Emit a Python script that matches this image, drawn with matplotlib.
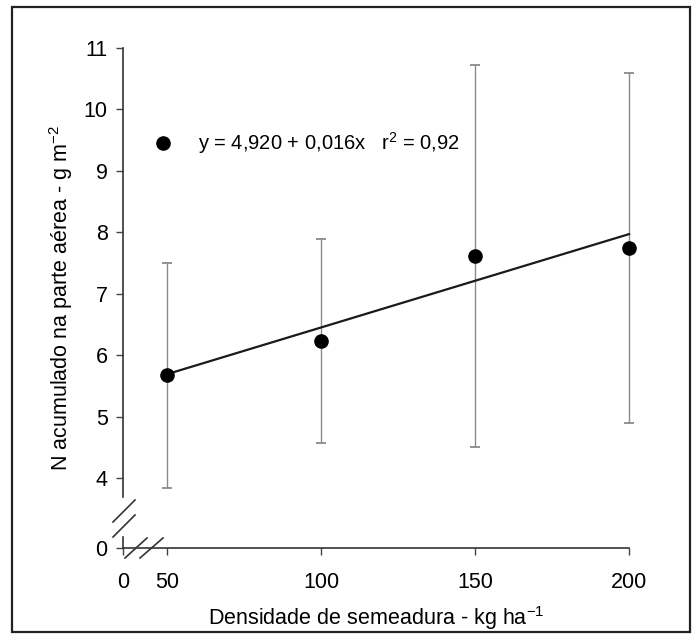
import matplotlib
matplotlib.use("Agg")
from matplotlib import pyplot as plt
from matplotlib.lines import Line2D
from matplotlib.patches import Rectangle

# data
densidade = [50, 100, 150, 200]
n_acum = [5.68, 6.23, 7.62, 7.75]
err_low = [3.84, 4.57, 4.50, 4.90]
err_high = [7.50, 7.89, 10.72, 10.60]
fit_x = [50, 200]
fit_y = [5.69, 7.97]
yticks = [4, 5, 6, 7, 8, 9, 10, 11]
xticks = [50, 100, 150, 200]
legend_label = "y = 4,920 + 0,016x   r$^2$ = 0,92"

plt.rcParams['font.family'] = ['Liberation Sans', 'DejaVu Sans']
plt.rcParams['mathtext.fontset'] = 'custom'
plt.rcParams['mathtext.rm'] = 'Liberation Sans'
plt.rcParams['mathtext.it'] = 'Liberation Sans'
plt.rcParams['font.size'] = 15.5

W, H = 695, 644
fig = plt.figure(figsize=(W / 100, H / 100), dpi=100)
ax = fig.add_axes([123 / W, 1 - 548 / H, (629 - 123) / W, 500 / H])

x0, y0 = 35.7, 2.86   # where the broken axes start ("0")
ax.set_xlim(x0, 200)
ax.set_ylim(y0, 11)

lo = [m - l for m, l in zip(n_acum, err_low)]
hi = [h - m for m, h in zip(n_acum, err_high)]
eb = ax.errorbar(densidade, n_acum, yerr=[lo, hi], fmt='none', ecolor='#8a8a8a',
                 elinewidth=1.0, capsize=3.5, capthick=1.3, zorder=2)
for art in eb.lines[1] + eb.lines[2]:
    art.set_clip_on(False)
ax.plot(fit_x, fit_y, color='#1a1a1a', lw=1.6, zorder=3, clip_on=False)
ax.plot(densidade, n_acum, 'o', color='black', ms=9.5, zorder=4, clip_on=False)

ax.set_xticks([x0] + xticks)
ax.set_xticklabels(['0'] + [str(v) for v in xticks])
ax.set_yticks([y0] + yticks)
ax.set_yticklabels(['0'] + [str(v) for v in yticks])
ax.tick_params(axis='x', length=5, width=1, pad=12, color='#444')
ax.tick_params(axis='y', length=5, width=1, pad=6, color='#444')

for s in ['top', 'right', 'left', 'bottom']:
    ax.spines[s].set_visible(False)

# axes lines with breaks (axes fraction coordinates)
tr = ax.transAxes
def px(x, y):
    return (x - 123) / 506, (548 - y) / 500
kw = dict(color='#333', lw=1.2, transform=tr, clip_on=False)
ax.add_line(Line2D([0, 0], [px(0, 497)[1], 1], **kw))
ax.add_line(Line2D([0, 0], [0, px(0, 537)[1]], **kw))
ax.add_line(Line2D([0, 1], [0, 0], **kw))
for (xa, ya, xb, yb) in [(113, 522, 135, 500), (113, 537, 135, 515),
                         (125, 558, 147, 538), (140, 558, 163, 538)]:
    a, b = px(xa, ya), px(xb, yb)
    ax.add_line(Line2D([a[0], b[0]], [a[1], b[1]], **kw))

ax.set_xlabel('Densidade de semeadura - kg ha$^{-1}$', labelpad=8)
ax.set_ylabel('N acumulado na parte aérea - g m$^{-2}$', labelpad=6)

h = Line2D([], [], marker='o', color='black', ls='none', ms=9.5)
ax.legend([h], [legend_label], loc='center left', bbox_to_anchor=px(143, 143),
          frameon=False, handlelength=1.0, handletextpad=1.25, borderpad=0,
          fontsize=14.5)

# outer frame of the figure
fig.patches.append(Rectangle((12 / W, 1 - 632 / H), 678 / W, 625 / H,
                             transform=fig.transFigure, fill=False,
                             edgecolor='#222', lw=1.6))

fig.savefig('out.png', dpi=100)
